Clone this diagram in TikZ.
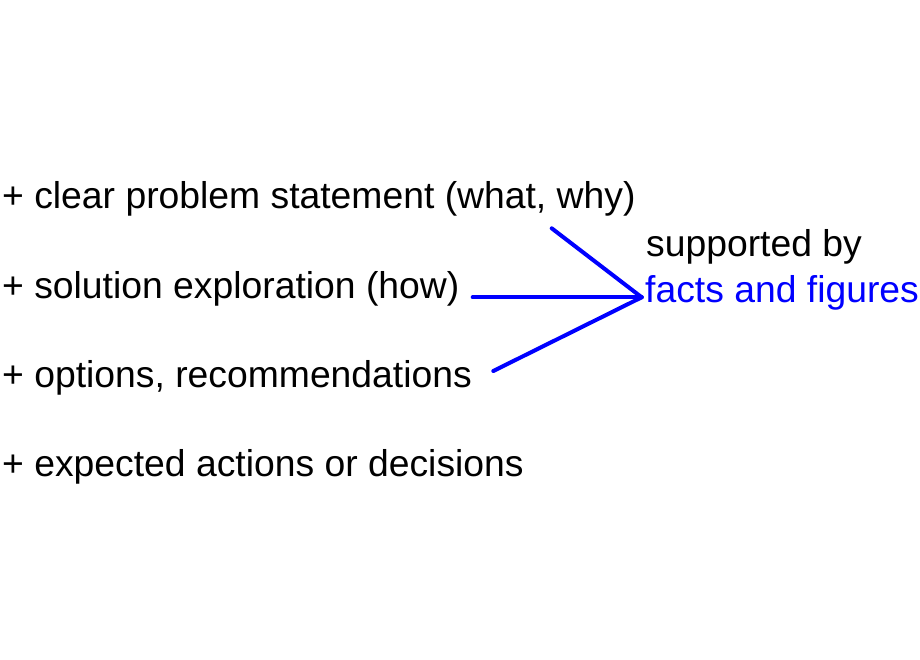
\documentclass[tikz,border=0pt]{standalone}
\usepackage{fontspec}
\setmainfont{Liberation Sans}
\begin{document}
\begin{tikzpicture}[x=1pt,y=-1pt,
  item/.style={anchor=base west,inner sep=0pt,font=\fontsize{37.3}{42}\selectfont},
  conn/.style={draw=blue,line width=4pt,line cap=round}]
\useasboundingbox (0,0) rectangle (920,660);
\node[item] (l1) at (2,209) {+ clear problem statement (what, why)};
\node[item] (l2) at (2,298) {+ solution exploration (how)};
\node[item] (l3) at (2,387) {+ options, recommendations};
\node[item] (l4) at (2,476) {+ expected actions or decisions};
\node[item] (sup) at (646,257) {supported by};
\node[item,text=blue] (facts) at (645,302) {facts and figures};
\coordinate (hub) at (641.7,297.3);
\coordinate (a1) at (551.7,228.3);
\coordinate (a2) at (472.7,297.3);
\coordinate (a3) at (493.3,371);
\draw[conn] (a1) -- (hub);
\draw[conn] (a2) -- (hub);
\draw[conn] (a3) -- (hub);
\end{tikzpicture}
\end{document}
